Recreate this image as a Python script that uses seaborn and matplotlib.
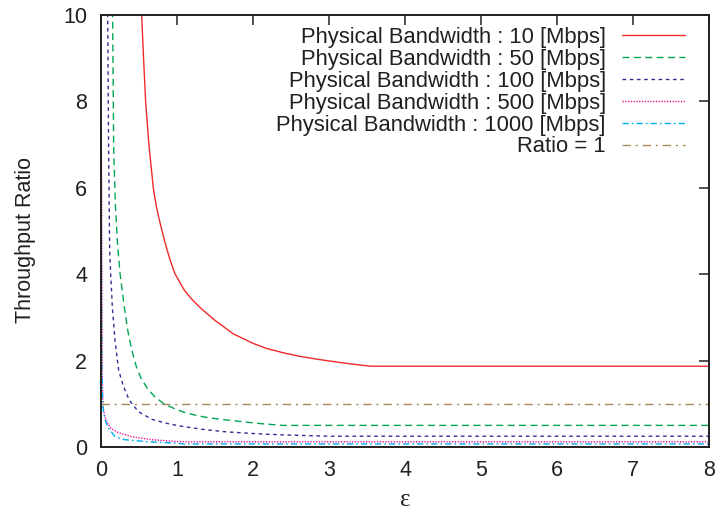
import matplotlib
matplotlib.use("Agg")
import matplotlib.pyplot as plt
import seaborn as sns
import pandas as pd

# ---- data ----
labels = ["Physical Bandwidth : 10 [Mbps]", "Physical Bandwidth : 50 [Mbps]",
          "Physical Bandwidth : 100 [Mbps]", "Physical Bandwidth : 500 [Mbps]",
          "Physical Bandwidth : 1000 [Mbps]", "Ratio = 1"]

x_10 = [0.52, 0.535, 0.56, 0.587, 0.63, 0.688, 0.73, 0.775, 0.84, 0.9, 0.97, 1.1, 1.2, 1.32, 1.5,
        1.74, 2.0, 2.18, 2.4, 2.61, 2.85, 3.05, 3.3, 3.55, 8.0]
y_10 = [11.0, 10.0, 9.0, 8.0, 7.0, 6.0, 5.55, 5.2, 4.75, 4.38, 4.02, 3.62, 3.41, 3.2, 2.93,
        2.62, 2.4, 2.28, 2.18, 2.1, 2.03, 1.98, 1.92, 1.87, 1.87]

x_50 = [0.145, 0.153, 0.167, 0.19, 0.214, 0.25, 0.306, 0.35, 0.40, 0.465, 0.53, 0.62, 0.71,
        0.82, 0.95, 1.1, 1.235, 1.4, 1.58, 1.89, 2.11, 2.39, 8.0]
y_50 = [11.0, 10.0, 6.87, 5.6, 4.79, 4.02, 3.25, 2.72, 2.28, 1.86, 1.58, 1.33, 1.16,
        1.01, 0.9, 0.8, 0.74, 0.68, 0.64, 0.58, 0.54, 0.5, 0.5]

x_100 = [0.085, 0.088, 0.10, 0.114, 0.127, 0.149, 0.184, 0.232, 0.29, 0.37, 0.49, 0.67, 0.86,
         0.97, 1.10, 1.37, 1.65, 2.02, 2.4, 2.8, 3.0, 8.0]
y_100 = [11.0, 10.0, 6.87, 4.56, 4.02, 3.25, 2.47, 1.78, 1.43, 1.09, 0.82, 0.64, 0.55,
         0.51, 0.47, 0.40, 0.35, 0.31, 0.28, 0.26, 0.25, 0.25]

x_500 = [0.005, 0.012, 0.017, 0.026, 0.045, 0.07, 0.13, 0.22, 0.40, 0.66, 0.97, 1.1, 8.0]
y_500 = [7.3, 4.0, 1.6, 0.95, 0.75, 0.6, 0.43, 0.34, 0.24, 0.17, 0.13, 0.12, 0.12]

x_1000 = [0.003, 0.006, 0.01, 0.02, 0.03, 0.05, 0.092, 0.18, 0.31, 0.62, 0.97, 1.1, 8.0]
y_1000 = [7.45, 4.0, 2.0, 1.15, 0.85, 0.65, 0.45, 0.25, 0.17, 0.12, 0.09, 0.07, 0.07]

x_ratio = [0.0, 8.0]
y_ratio = [1.0, 1.0]

x_ticks = [0, 1, 2, 3, 4, 5, 6, 7, 8]
y_ticks = [0, 2, 4, 6, 8, 10]

# ---- styling ----
sns.set_style("white")
plt.rcParams["font.family"] = ["Liberation Sans", "DejaVu Sans"]
txt = "#231f20"

colors = ["#ee2a2a", "#00a651", "#2e3192", "#ec008c", "#00aeef", "#a8875a"]
styles = ["-", (0, (5, 3.2)), (0, (2.6, 2.6)), (0, (0.9, 1.1)),
          (0, (4.5, 2.2, 1.2, 2.2)), (0, (6, 3.5, 1.5, 3.5))]

fig = plt.figure(figsize=(7.21, 5.14), dpi=100)
ax = fig.add_axes([101 / 721, 1 - 447 / 514, 608 / 721, 432 / 514])

series = [(x_10, y_10), (x_50, y_50), (x_100, y_100), (x_500, y_500),
          (x_1000, y_1000), (x_ratio, y_ratio)]
for (xs, ys), lab, c, ls in zip(series, labels, colors, styles):
    df = pd.DataFrame({"x": xs, "y": ys})
    sns.lineplot(data=df, x="x", y="y", ax=ax, color=c, linestyle=ls, lw=1.0,
                 label=lab, sort=False, estimator=None)

ax.set_xlim(0, 8)
ax.set_ylim(0, 10)
ax.set_xticks(x_ticks)
ax.set_yticks(y_ticks)
ax.tick_params(axis="both", direction="in", length=7, width=1.1, colors=txt,
               top=True, right=True, labelsize=15.5)
ax.tick_params(axis="x", pad=9.5)
ax.tick_params(axis="y", pad=10)
for sp in ax.spines.values():
    sp.set_visible(True)
    sp.set_color(txt)
    sp.set_linewidth(1.4)

ax.set_ylabel("Throughput Ratio", fontsize=15.5, color=txt)
ax.yaxis.set_label_coords(-0.107, 0.479)
ax.set_xlabel("ε", fontsize=18, color=txt, family=["Liberation Serif", "DejaVu Serif"])
ax.xaxis.set_label_coords(0.5, -0.098)

leg = ax.legend(loc="upper right", bbox_to_anchor=(0.9605, 0.972), borderaxespad=0,
                borderpad=0, frameon=False, markerfirst=False, handlelength=2.85,
                handletextpad=0.75, labelspacing=0.04, fontsize=15.8)
for t in leg.get_texts():
    t.set_color(txt)

fig.savefig("out.png", dpi=100)
